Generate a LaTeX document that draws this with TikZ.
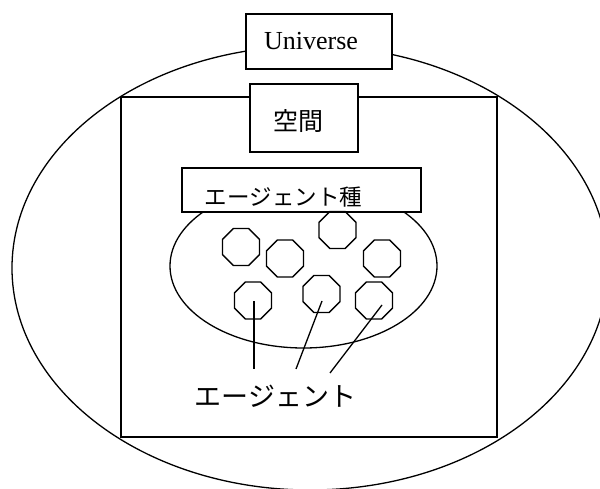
\documentclass[tikz,border=0pt]{standalone}
\usepackage{fontspec}
\setmainfont{Liberation Serif}
\newfontfamily\jpfont{Noto Sans CJK JP}
\usetikzlibrary{shapes.geometric}
\begin{document}
\begin{tikzpicture}[x=1pt,y=-1pt, line width=1.3pt,
  box/.style={draw, fill=white, inner sep=0pt},
  octo/.style={draw, regular polygon, regular polygon sides=8, minimum size=40pt, inner sep=0pt},
  lbl/.style={inner sep=0pt}]
\useasboundingbox (0,0) rectangle (600,489);
\clip (0,0) rectangle (600,489);
% universe ellipse
\node[draw, ellipse, minimum width=596pt, minimum height=444pt, inner sep=0pt] (univ) at (310,268) {};
% space rectangle
\node[draw, minimum width=376pt, minimum height=340pt, inner sep=0pt] (space) at (309,267) {};
% agent species ellipse
\node[draw, ellipse, minimum width=267pt, minimum height=164pt, inner sep=0pt] (species) at (303.5,266) {};
% boxes
\node[box, minimum width=146pt, minimum height=55pt] (univbox) at (319,41.5) {};
\node[lbl, font=\fontsize{26}{28}\selectfont] (univtxt) at (311,41.5) {Universe};
\node[box, minimum width=108pt, minimum height=68pt] (spacebox) at (304,118) {};
\node[lbl, font=\jpfont\fontsize{25}{28}\selectfont] (spacetxt) at (298,121) {空間};
\node[box, minimum width=239pt, minimum height=44pt] (specbox) at (301.5,190) {};
\node[lbl, font=\jpfont\fontsize{22.5}{26}\selectfont] (spectxt) at (283.5,197) {エージェント種};
% agents
\node[octo] (o1) at (241,247) {};
\node[octo] (o2) at (285,258.5) {};
\node[octo] (o3) at (337.5,230) {};
\node[octo] (o4) at (382,258.5) {};
\node[octo] (o5) at (253,300.5) {};
\node[octo] (o6) at (321.5,294) {};
\node[octo] (o7) at (374,300.5) {};
% label
\node[lbl, font=\jpfont\fontsize{27}{30}\selectfont] (agtxt) at (275.5,396) {エージェント};
\coordinate (s5) at (254,301);
\coordinate (s6) at (322,301);
\coordinate (s7) at (382,305);
\coordinate (e5) at (254,369);
\coordinate (e6) at (296,369);
\coordinate (e7) at (330,373);
\draw (s5) -- (e5);
\draw (s6) -- (e6);
\draw (s7) -- (e7);
\end{tikzpicture}
\end{document}
